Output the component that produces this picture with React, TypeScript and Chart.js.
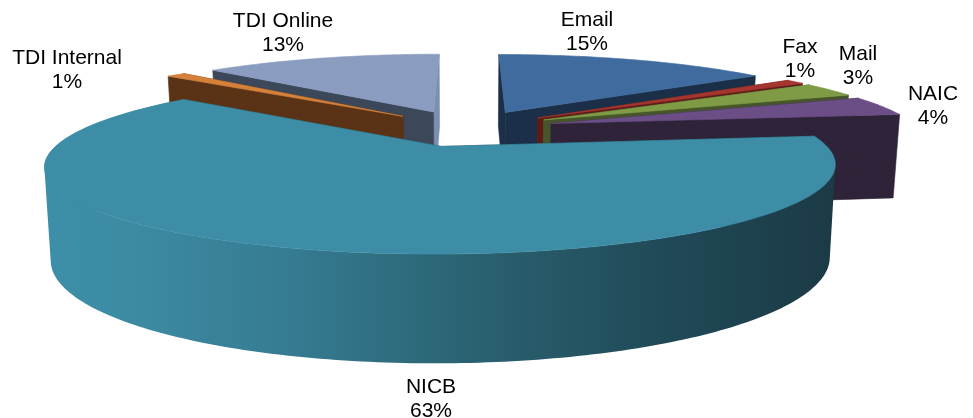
import React, { useEffect, useRef } from "react";
import { Chart, registerables } from "chart.js";

Chart.register(...registerables);

const categories = ["Email", "Fax", "Mail", "NAIC", "NICB", "TDI Internal", "TDI Online"];
const shares = [15, 1, 3, 4, 63, 1, 13];
const topColors = ["#3f6b9e", "#a5352f", "#7f9b46", "#6a4e85", "#3d8da6", "#d5813a", "#8a9dc0"];
const wallColors = ["#1b2f48", "#5e1c19", "#46562a", "#2e2338", "#1f4552", "#5a3316", "#3c4759"];
const endWallColors = ["#1b2f48", "#5e1c19", "#46562a", "#2e2338", "#1f4552", "#5a3316", "#7b8fb3"];
const drawOrder = [6, 5, 0, 1, 2, 3, 4];

const W = 973;
const H = 418;
const VIEW = { cx: 467, cy: 128, rx: 367, ry: 76, persp: 0.21, explode: 0.24, depth: 86, depthPow: 0.8, taper: 0.985 };
const LABEL_CENTERS = [
  [587, 20],
  [800, 47],
  [858, 54],
  [933, 94],
  [431, 387],
  [67, 58],
  [283, 21],
];
const LINE_GAP = 24.5;
const FONT = '21px "Liberation Sans", Arial, sans-serif';
const wallStops: [number, string][] = [
  [45, "#3d8ea8"],
  [130, "#3c8ba3"],
  [300, "#357a90"],
  [480, "#2a6170"],
  [650, "#214b59"],
  [835, "#1b3a46"],
];

type P = [number, number];

function project(X: number, Y: number, bottom: boolean): P {
  const w = 1 / (1 - VIEW.persp * Y);
  const x = X * VIEW.rx * w;
  const y = VIEW.cy + Y * VIEW.ry * w;
  if (!bottom) return [VIEW.cx + x, y];
  return [VIEW.cx + x * VIEW.taper, y + VIEW.depth * Math.pow(w, VIEW.depthPow)];
}

function trace(ctx: CanvasRenderingContext2D, pts: P[]) {
  pts.forEach((p, i) => (i ? ctx.lineTo(p[0], p[1]) : ctx.moveTo(p[0], p[1])));
  ctx.closePath();
}

function polygon(ctx: CanvasRenderingContext2D, pts: P[], fill: string | CanvasGradient) {
  ctx.beginPath();
  trace(ctx, pts);
  ctx.fillStyle = fill;
  ctx.strokeStyle = fill;
  ctx.lineWidth = 0.6;
  ctx.fill();
  ctx.stroke();
}

function signedArea(q: P[]) {
  let s = 0;
  q.forEach((p, i) => {
    const r = q[(i + 1) % q.length];
    s += p[0] * r[1] - r[0] * p[1];
  });
  return s;
}

const pie3d = {
  id: "pie3d",
  beforeDatasetDraw() {
    return false;
  },
  afterDatasetsDraw(chart: any) {
    const ctx: CanvasRenderingContext2D = chart.ctx;
    const arcs = chart.getDatasetMeta(0).data;
    ctx.save();
    for (const i of drawOrder) {
      const arc = arcs[i];
      const a0 = arc.startAngle + Math.PI / 2;
      const a1 = arc.endAngle + Math.PI / 2;
      const mid = (a0 + a1) / 2;
      const ox = VIEW.explode * Math.sin(mid);
      const oy = -VIEW.explode * Math.cos(mid);
      const n = Math.max(2, Math.ceil(((a1 - a0) * 180) / Math.PI));
      const rim = (b: boolean) => {
        const out: P[] = [];
        for (let k = 0; k <= n; k++) {
          const a = a0 + ((a1 - a0) * k) / n;
          out.push(project(ox + Math.sin(a), oy - Math.cos(a), b));
        }
        return out;
      };
      const top = rim(false);
      const bot = rim(true);
      const vt = project(ox, oy, false);
      const vb = project(ox, oy, true);
      polygon(ctx, [vt, top[n], bot[n], vb], endWallColors[i]);
      polygon(ctx, [vt, top[0], bot[0], vb], wallColors[i]);
      if (Math.cos(mid) < 0) {
        const first = wallStops[0][0];
        const span = wallStops[wallStops.length - 1][0] - first;
        const g = ctx.createLinearGradient(first, 0, first + span, 0);
        wallStops.forEach(([x, c]) => g.addColorStop((x - first) / span, c));
        ctx.beginPath();
        for (let k = 0; k < n; k++) {
          const q: P[] = [top[k], top[k + 1], bot[k + 1], bot[k]];
          trace(ctx, signedArea(q) < 0 ? q.reverse() : q);
        }
        ctx.fillStyle = g;
        ctx.fill("nonzero");
      }
      polygon(ctx, [vt, ...top], topColors[i]);
    }
    ctx.font = FONT;
    ctx.fillStyle = "#000";
    ctx.textAlign = "center";
    ctx.textBaseline = "middle";
    categories.forEach((name, i) => {
      const [x, y] = LABEL_CENTERS[i];
      ctx.fillText(name, x, y);
      ctx.fillText(`${shares[i]}%`, x, y + LINE_GAP);
    });
    ctx.restore();
  },
};

export default function App() {
  const ref = useRef<HTMLCanvasElement>(null);
  useEffect(() => {
    const chart = new Chart(ref.current!, {
      type: "pie",
      data: {
        labels: categories,
        datasets: [{ data: shares, backgroundColor: topColors, borderWidth: 0 }],
      },
      options: {
        responsive: false,
        animation: false,
        plugins: { legend: { display: false }, tooltip: { enabled: false } },
      },
      plugins: [pie3d],
    } as any);
    return () => chart.destroy();
  }, []);
  return (
    <div style={{ position: "absolute", left: 0, top: 0, width: W, height: H, background: "#fff" }}>
      <canvas ref={ref} width={W} height={H} style={{ display: "block" }} />
    </div>
  );
}
